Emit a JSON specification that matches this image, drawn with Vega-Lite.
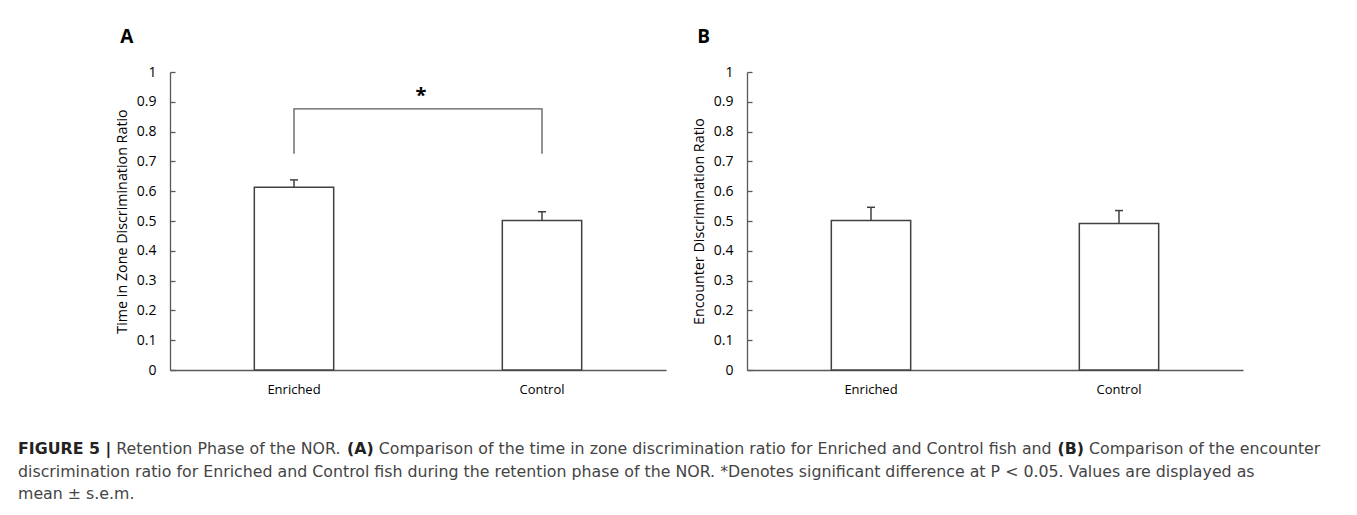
{
  "$schema": "https://vega.github.io/schema/vega-lite/v6.json",
  "padding": {"left": 18, "top": 28, "right": 4, "bottom": 0},
  "background": "white",
  "datasets": {
    "bars": [
      {"panel": "A", "group": "Enriched", "mean": 0.613, "upper": 0.638},
      {"panel": "A", "group": "Control", "mean": 0.502, "upper": 0.531},
      {"panel": "B", "group": "Enriched", "mean": 0.502, "upper": 0.546},
      {"panel": "B", "group": "Control", "mean": 0.492, "upper": 0.535}
    ],
    "bracket": [
      {"step": 1, "group": "Enriched", "val": 0.726},
      {"step": 2, "group": "Enriched", "val": 0.876},
      {"step": 3, "group": "Control", "val": 0.876},
      {"step": 4, "group": "Control", "val": 0.726}
    ],
    "star": [{"group": "Enriched", "val": 0.92, "label": "*"}],
    "caption": [
      {"line": 1, "seg": 1, "text": "FIGURE 5 |"},
      {"line": 1, "seg": 2, "text": "Retention Phase of the NOR."},
      {"line": 1, "seg": 3, "text": "(A)"},
      {"line": 1, "seg": 4, "text": "Comparison of the time in zone discrimination ratio for Enriched and Control fish and"},
      {"line": 1, "seg": 5, "text": "(B)"},
      {"line": 1, "seg": 6, "text": "Comparison of the encounter"},
      {"line": 2, "seg": 0, "text": "discrimination ratio for Enriched and Control fish during the retention phase of the NOR. *Denotes significant difference at P < 0.05. Values are displayed as"},
      {"line": 3, "seg": 0, "text": "mean ± s.e.m."}
    ]
  },
  "config": {
    "view": {"stroke": null},
    "font": "Open Sans",
    "axis": {
      "grid": false,
      "labelOverlap": false,
      "domainColor": "#595959",
      "domainWidth": 1.3,
      "tickColor": "#595959",
      "tickWidth": 1.3,
      "labelFont": "Open Sans",
      "labelFontSize": 14,
      "labelColor": "#000000",
      "titleFont": "Open Sans",
      "titleFontSize": 14.3,
      "titleFontWeight": "normal",
      "titleColor": "#000000"
    }
  },
  "spacing": 45,
  "vconcat": [
    {
      "spacing": 26,
      "hconcat": [
        {"width": 71, "height": 298, "data": {"values": []}, "mark": "point"},
        {
          "width": 496,
          "height": 298,
          "title": {"text": "A", "anchor": "start", "frame": "bounds", "fontSize": 19, "fontWeight": "bold", "font": "Open Sans", "color": "#000000", "offset": 18, "dx": 5},
          "layer": [
            {
              "data": {"name": "bars"},
              "transform": [{"filter": "datum.panel === 'A'"}],
              "mark": {"type": "bar", "width": {"band": 0.32}, "fill": "white", "stroke": "#404040", "strokeWidth": 1.5},
              "encoding": {
                "x": {"field": "group", "type": "nominal", "scale": {"domain": ["Enriched", "Control"], "paddingInner": 0, "paddingOuter": 0}, "axis": {"title": null, "ticks": false, "labelAngle": 0, "labelPadding": 13, "labelFontSize": 13}},
                "y": {"field": "mean", "type": "quantitative", "scale": {"domain": [0, 1], "nice": false}, "axis": {"title": "Time in Zone Discrimination Ratio", "values": [0, 0.1, 0.2, 0.3, 0.4, 0.5, 0.6, 0.7, 0.8, 0.9, 1], "format": ".1~f", "labelOverlap": false, "tickCount": 11, "tickSize": -5, "labelPadding": 19, "titlePadding": 7}}
              }
            },
            {
              "data": {"name": "bars"},
              "transform": [{"filter": "datum.panel === 'A'"}],
              "mark": {"type": "rule", "stroke": "#404040", "strokeWidth": 1.5},
              "encoding": {"x": {"field": "group", "type": "nominal"}, "y": {"field": "mean", "type": "quantitative"}, "y2": {"field": "upper"}}
            },
            {
              "data": {"name": "bars"},
              "transform": [{"filter": "datum.panel === 'A'"}],
              "mark": {"type": "tick", "size": 8, "thickness": 1.5, "color": "#404040", "opacity": 1},
              "encoding": {"x": {"field": "group", "type": "nominal"}, "y": {"field": "upper", "type": "quantitative"}}
            },
            {
              "data": {"name": "bracket"},
              "mark": {"type": "line", "stroke": "#595959", "strokeWidth": 1.3},
              "encoding": {"x": {"field": "group", "type": "nominal"}, "y": {"field": "val", "type": "quantitative"}, "order": {"field": "step"}}
            },
            {
              "data": {"name": "star"},
              "mark": {"type": "text", "fontSize": 20, "fontWeight": "bold", "font": "Open Sans", "baseline": "middle", "color": "#000000", "dx": 3},
              "encoding": {"x": {"field": "group", "type": "nominal", "bandPosition": 1}, "y": {"field": "val", "type": "quantitative"}, "text": {"field": "label"}}
            }
          ]
        },
        {
          "width": 496,
          "height": 298,
          "title": {"text": "B", "anchor": "start", "frame": "bounds", "fontSize": 19, "fontWeight": "bold", "font": "Open Sans", "color": "#000000", "offset": 18, "dx": 5},
          "layer": [
            {
              "data": {"name": "bars"},
              "transform": [{"filter": "datum.panel === 'B'"}],
              "mark": {"type": "bar", "width": {"band": 0.32}, "fill": "white", "stroke": "#404040", "strokeWidth": 1.5},
              "encoding": {
                "x": {"field": "group", "type": "nominal", "scale": {"domain": ["Enriched", "Control"], "paddingInner": 0, "paddingOuter": 0}, "axis": {"title": null, "ticks": false, "labelAngle": 0, "labelPadding": 13, "labelFontSize": 13}},
                "y": {"field": "mean", "type": "quantitative", "scale": {"domain": [0, 1], "nice": false}, "axis": {"title": "Encounter Discrimination Ratio", "values": [0, 0.1, 0.2, 0.3, 0.4, 0.5, 0.6, 0.7, 0.8, 0.9, 1], "format": ".1~f", "labelOverlap": false, "tickCount": 11, "tickSize": -5, "labelPadding": 19, "titlePadding": 7}}
              }
            },
            {
              "data": {"name": "bars"},
              "transform": [{"filter": "datum.panel === 'B'"}],
              "mark": {"type": "rule", "stroke": "#404040", "strokeWidth": 1.5},
              "encoding": {"x": {"field": "group", "type": "nominal"}, "y": {"field": "mean", "type": "quantitative"}, "y2": {"field": "upper"}}
            },
            {
              "data": {"name": "bars"},
              "transform": [{"filter": "datum.panel === 'B'"}],
              "mark": {"type": "tick", "size": 8, "thickness": 1.5, "color": "#404040", "opacity": 1},
              "encoding": {"x": {"field": "group", "type": "nominal"}, "y": {"field": "upper", "type": "quantitative"}}
            }
          ]
        }
      ]
    },
    {
      "width": 1300,
      "height": 45,
      "data": {"name": "caption"},
      "encoding": {
        "y": {"field": "line", "type": "ordinal", "axis": null, "scale": {"type": "point", "padding": 0}},
        "text": {"field": "text"}
      },
      "layer": [
        {"transform": [{"filter": "datum.seg === 0"}], "mark": {"type": "text", "align": "left", "baseline": "alphabetic", "font": "DejaVu Sans", "fontSize": 15.8, "color": "#444444"}, "encoding": {"x": {"value": 0}}},
        {"transform": [{"filter": "datum.seg === 1"}], "mark": {"type": "text", "align": "left", "baseline": "alphabetic", "font": "DejaVu Sans", "fontSize": 15.8, "fontWeight": "bold", "color": "#222222"}, "encoding": {"x": {"value": 0}}},
        {"transform": [{"filter": "datum.seg === 2"}], "mark": {"type": "text", "align": "left", "baseline": "alphabetic", "font": "DejaVu Sans", "fontSize": 15.8, "color": "#444444"}, "encoding": {"x": {"value": 98.2}}},
        {"transform": [{"filter": "datum.seg === 3"}], "mark": {"type": "text", "align": "left", "baseline": "alphabetic", "font": "DejaVu Sans", "fontSize": 15.8, "fontWeight": "bold", "color": "#222222"}, "encoding": {"x": {"value": 329}}},
        {"transform": [{"filter": "datum.seg === 4"}], "mark": {"type": "text", "align": "left", "baseline": "alphabetic", "font": "DejaVu Sans", "fontSize": 15.8, "color": "#444444"}, "encoding": {"x": {"value": 360.7}}},
        {"transform": [{"filter": "datum.seg === 5"}], "mark": {"type": "text", "align": "left", "baseline": "alphabetic", "font": "DejaVu Sans", "fontSize": 15.8, "fontWeight": "bold", "color": "#222222"}, "encoding": {"x": {"value": 1039.5}}},
        {"transform": [{"filter": "datum.seg === 6"}], "mark": {"type": "text", "align": "left", "baseline": "alphabetic", "font": "DejaVu Sans", "fontSize": 15.8, "color": "#444444"}, "encoding": {"x": {"value": 1071}}}
      ]
    }
  ]
}
